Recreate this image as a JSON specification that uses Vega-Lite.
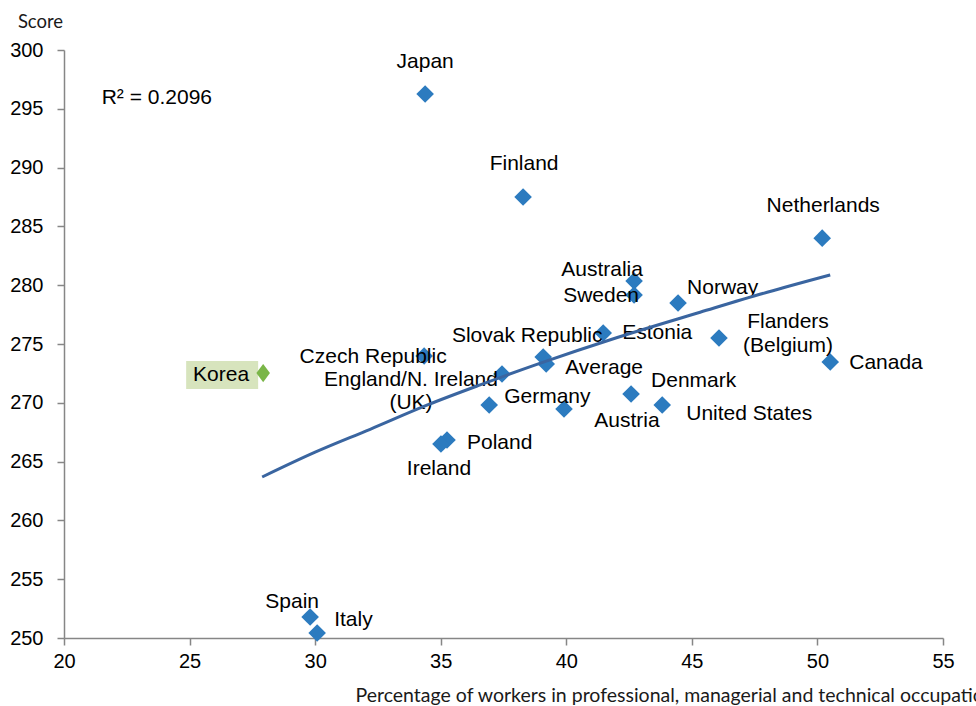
{
  "$schema": "https://vega.github.io/schema/vega-lite/v6.json",
  "width": 879,
  "height": 588,
  "autosize": {"type": "none"},
  "padding": {"left": 64, "top": 50, "right": 33, "bottom": 68},
  "background": "white",
  "config": {
    "view": {"stroke": null},
    "font": "Liberation Sans",
    "text": {"font": "Liberation Sans", "fontSize": 21, "color": "#000000", "baseline": "middle", "lineBreak": "\n", "lineHeight": 24}
  },
  "datasets": {
    "countries": [
      {"country": "Japan", "pct": 34.38, "score": 296.26},
      {"country": "Finland", "pct": 38.28, "score": 287.5},
      {"country": "Netherlands", "pct": 50.19, "score": 284.0},
      {"country": "Australia", "pct": 42.7, "score": 280.36},
      {"country": "Sweden", "pct": 42.7, "score": 279.17},
      {"country": "Norway", "pct": 44.45, "score": 278.49},
      {"country": "Estonia", "pct": 41.47, "score": 275.94},
      {"country": "Slovak Republic", "pct": 39.08, "score": 273.89},
      {"country": "Average", "pct": 39.2, "score": 273.3},
      {"country": "Flanders (Belgium)", "pct": 46.08, "score": 275.51},
      {"country": "Canada", "pct": 50.51, "score": 273.47},
      {"country": "Czech Republic", "pct": 34.34, "score": 273.98},
      {"country": "England/N. Ireland (UK)", "pct": 37.44, "score": 272.45},
      {"country": "Germany", "pct": 36.93, "score": 269.81},
      {"country": "Austria", "pct": 39.91, "score": 269.47},
      {"country": "Denmark", "pct": 42.58, "score": 270.75},
      {"country": "United States", "pct": 43.82, "score": 269.81},
      {"country": "Poland", "pct": 35.25, "score": 266.84},
      {"country": "Ireland", "pct": 35.01, "score": 266.5},
      {"country": "Spain", "pct": 29.8, "score": 251.79},
      {"country": "Italy", "pct": 30.08, "score": 250.43}
    ],
    "korea": [
      {"country": "Korea", "pct": 27.93, "score": 272.53}
    ],
    "trend": [
      {"pct": 27.89, "score": 263.69},
      {"pct": 30.0, "score": 265.8},
      {"pct": 32.19, "score": 267.75},
      {"pct": 34.5, "score": 269.84},
      {"pct": 36.57, "score": 271.52},
      {"pct": 39.0, "score": 273.39},
      {"pct": 42.0, "score": 275.53},
      {"pct": 45.33, "score": 277.7},
      {"pct": 48.0, "score": 279.4},
      {"pct": 50.51, "score": 280.87}
    ],
    "note": [
      {"label": "R² = 0.2096", "pct": 21.5, "score": 295.9}
    ]
  },
  "encoding": {
    "x": {
      "field": "pct", "type": "quantitative",
      "scale": {"domain": [20, 55], "nice": false, "zero": false},
      "axis": {
        "values": [20, 25, 30, 35, 40, 45, 50, 55],
        "grid": false, "labelFlush": false,
        "domainColor": "#868686", "domainWidth": 1.5,
        "tickColor": "#868686", "tickWidth": 1.5, "tickSize": 7,
        "labelFont": "Liberation Sans", "labelFontSize": 20, "labelColor": "#000000", "labelPadding": 6,
        "title": "Percentage of workers in professional, managerial and technical occupations",
        "titleFont": "Lato", "titleFontSize": 19.5, "titleFontWeight": "normal", "titleColor": "#1a1a1a",
        "titleX": 291, "titleY": 57, "titleAlign": "left", "titleBaseline": "middle", "titleLimit": 2000
      }
    },
    "y": {
      "field": "score", "type": "quantitative",
      "scale": {"domain": [250, 300], "nice": false, "zero": false},
      "axis": {
        "values": [250, 255, 260, 265, 270, 275, 280, 285, 290, 295, 300],
        "grid": false, "labelFlush": false,
        "domainColor": "#868686", "domainWidth": 1.5,
        "tickColor": "#868686", "tickWidth": 1.5, "tickSize": 7,
        "labelFont": "Liberation Sans", "labelFontSize": 20, "labelColor": "#000000", "labelPadding": 14,
        "title": "Score", "titleAngle": 0,
        "titleFont": "Lato", "titleFontSize": 18.5, "titleFontWeight": "normal", "titleColor": "#1a1a1a",
        "titleX": -24, "titleY": -29, "titleAlign": "center", "titleBaseline": "middle"
      }
    }
  },
  "layer": [
    {
      "data": {"name": "countries"},
      "mark": {"type": "point", "shape": "diamond", "filled": true, "size": 310, "color": "#2C7BBF", "opacity": 1, "strokeWidth": 0}
    },
    {
      "data": {"name": "korea"},
      "mark": {"type": "point", "shape": "M-1,-0.389L1,-0.389L1,0.389L-1,0.389Z", "filled": true, "size": 5184, "color": "#D7E4BD", "opacity": 1, "strokeWidth": 0, "xOffset": -41, "yOffset": 2}
    },
    {
      "data": {"name": "korea"},
      "mark": {"type": "point", "shape": "M-0.75,0L0,-1L0.75,0L0,1Z", "filled": true, "size": 330, "color": "#7AB648", "opacity": 1, "strokeWidth": 0}
    },
    {
      "data": {"name": "korea"},
      "mark": {"type": "text", "align": "right", "dx": -14, "dy": 2},
      "encoding": {"text": {"field": "country"}}
    },
    {
      "data": {"name": "note"},
      "mark": {"type": "text", "align": "left", "fontSize": 21},
      "encoding": {"text": {"field": "label"}}
    },
    {
      "data": {"name": "countries"},
      "transform": [{"calculate": "replace(replace(datum.country, ' (Belgium)', '\\n(Belgium)'), ' (UK)', '\\n(UK)')", "as": "label"}],
      "encoding": {"text": {"field": "label"}},
      "layer": [
        {"transform": [{"filter": "datum.country === 'Japan'"}], "mark": {"type": "text", "align": "center", "dx": 0, "dy": -32}},
        {"transform": [{"filter": "datum.country === 'Finland'"}], "mark": {"type": "text", "align": "center", "dx": 1, "dy": -33}},
        {"transform": [{"filter": "datum.country === 'Netherlands'"}], "mark": {"type": "text", "align": "center", "dx": 1, "dy": -32}},
        {"transform": [{"filter": "datum.country === 'Australia'"}], "mark": {"type": "text", "align": "center", "dx": -32, "dy": -11}},
        {"transform": [{"filter": "datum.country === 'Sweden'"}], "mark": {"type": "text", "align": "center", "dx": -33, "dy": 1}},
        {"transform": [{"filter": "datum.country === 'Norway'"}], "mark": {"type": "text", "align": "left", "dx": 9, "dy": -15}},
        {"transform": [{"filter": "datum.country === 'Slovak Republic'"}], "mark": {"type": "text", "align": "center", "dx": -16, "dy": -21}},
        {"transform": [{"filter": "datum.country === 'Estonia'"}], "mark": {"type": "text", "align": "left", "dx": 19, "dy": 0}},
        {"transform": [{"filter": "datum.country === 'Flanders (Belgium)'"}], "mark": {"type": "text", "align": "center", "dx": 69, "dy": -16}},
        {"transform": [{"filter": "datum.country === 'Canada'"}], "mark": {"type": "text", "align": "left", "dx": 19, "dy": 1}},
        {"transform": [{"filter": "datum.country === 'Czech Republic'"}], "mark": {"type": "text", "align": "center", "dx": -51, "dy": 1}},
        {"transform": [{"filter": "datum.country === 'England/N. Ireland (UK)'"}], "mark": {"type": "text", "align": "center", "dx": -91, "dy": 6, "lineHeight": 23}},
        {"transform": [{"filter": "datum.country === 'Average'"}], "mark": {"type": "text", "align": "left", "dx": 19, "dy": 4}},
        {"transform": [{"filter": "datum.country === 'Germany'"}], "mark": {"type": "text", "align": "left", "dx": 15, "dy": -8}},
        {"transform": [{"filter": "datum.country === 'Denmark'"}], "mark": {"type": "text", "align": "left", "dx": 20, "dy": -13}},
        {"transform": [{"filter": "datum.country === 'Austria'"}], "mark": {"type": "text", "align": "center", "dx": 63, "dy": 12}},
        {"transform": [{"filter": "datum.country === 'United States'"}], "mark": {"type": "text", "align": "left", "dx": 24, "dy": 9}},
        {"transform": [{"filter": "datum.country === 'Poland'"}], "mark": {"type": "text", "align": "left", "dx": 20, "dy": 3}},
        {"transform": [{"filter": "datum.country === 'Ireland'"}], "mark": {"type": "text", "align": "center", "dx": -2, "dy": 25}},
        {"transform": [{"filter": "datum.country === 'Spain'"}], "mark": {"type": "text", "align": "center", "dx": -18, "dy": -15}},
        {"transform": [{"filter": "datum.country === 'Italy'"}], "mark": {"type": "text", "align": "left", "dx": 17, "dy": -13}}
      ]
    },
    {
      "data": {"name": "trend"},
      "mark": {"type": "line", "color": "#3A65A0", "strokeWidth": 3, "interpolate": "monotone"}
    }
  ]
}
